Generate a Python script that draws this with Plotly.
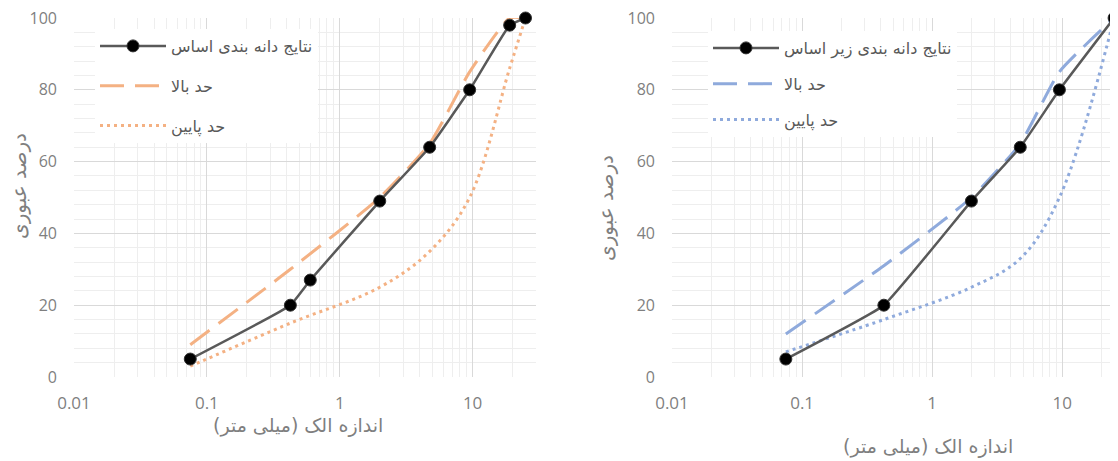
import plotly.graph_objects as go

# ---------------- data ----------------
sieve_base = [0.075, 0.425, 0.6, 2.0, 4.75, 9.5, 19, 25]
pass_base = [5, 20, 27, 49, 64, 80, 98, 100]
sieve_base_lim = [0.075, 0.425, 2.0, 4.75, 9.5, 19, 25]
base_upper = [9, 30, 50, 65, 85, 100, 100]
base_lower = [3, 15, 25, 35, 50, 86, 100]

sieve_sub = [0.075, 0.425, 2.0, 4.75, 9.5, 25]
pass_sub = [5, 20, 49, 64, 80, 100]
sieve_sub_lim = [0.075, 0.425, 2.0, 4.75, 9.5, 25]
sub_upper = [12, 31, 50, 65, 85, 100]
sub_lower = [7, 16, 25, 33, 50, 100]

x_tickvals = [0.01, 0.1, 1, 10]
x_ticktext = ["0.01", "0.1", "1", "10"]
y_tickvals = [0, 20, 40, 60, 80, 100]

name_base = "نتایج دانه بندی اساس"
name_sub = "نتایج دانه بندی زیر اساس"
name_up = "حد بالا"
name_low = "حد پایین"
x_title = "اندازه الک (میلی متر)"
y_title = "درصد عبوری"

# ---------------- style ----------------
orange = "#F4B183"
blue = "#8FAADC"
gray_line = "#595959"
txt = "#7f7f7f"
fa_font = "DejaVu Sans"
num_font = "Open Sans"

# page body has an 8px default margin; figure is sized to fill the rest
OFF = 8
W, H = 1118 - OFF, 461 - OFF

def px_x(v):          # reference-pixel x -> paper fraction
    return (v - OFF) / W

def px_y(v):          # reference-pixel y -> paper fraction
    return 1 - (v - OFF) / H

fig = go.Figure()

def add_set(xs, ys, xl, up, low, name_main, color, xa, ya, leg):
    fig.add_trace(go.Scatter(
        x=xl, y=up, mode="lines", name=name_up,
        line=dict(color=color, width=3, dash="24px,11px", shape="spline", smoothing=0.5),
        xaxis=xa, yaxis=ya, legend=leg, legendgroup=leg + "b", legendrank=2,
        cliponaxis=False))
    fig.add_trace(go.Scatter(
        x=xl, y=low, mode="lines", name=name_low,
        line=dict(color=color, width=3, dash="3px,4px", shape="spline", smoothing=1.0),
        xaxis=xa, yaxis=ya, legend=leg, legendgroup=leg + "c", legendrank=3,
        cliponaxis=False))
    fig.add_trace(go.Scatter(
        x=xs, y=ys, mode="lines+markers", name=name_main,
        line=dict(color=gray_line, width=2.5, shape="spline", smoothing=0.3),
        marker=dict(color="black", size=12, line=dict(color="#333333", width=1)),
        xaxis=xa, yaxis=ya, legend=leg, legendgroup=leg + "a", legendrank=1,
        cliponaxis=False))

add_set(sieve_base, pass_base, sieve_base_lim, base_upper, base_lower,
        name_base, orange, "x", "y", "legend")
add_set(sieve_sub, pass_sub, sieve_sub_lim, sub_upper, sub_lower,
        name_sub, blue, "x2", "y2", "legend2")

ydom = [px_y(377), px_y(18)]

xcommon = dict(
    type="log", tickvals=x_tickvals, ticktext=x_ticktext,
    showgrid=True, gridcolor="#d9d9d9", gridwidth=1,
    minor=dict(showgrid=True, gridcolor="#eeeeee", gridwidth=1, dtick="D1"),
    zeroline=False, showline=False, ticks="", automargin=False,
    ticklabelstandoff=14, ticklabeloverflow="allow",
    tickfont=dict(family=num_font, size=17, color=txt),
)
ycommon = dict(
    range=[0, 100], tickvals=y_tickvals,
    showgrid=True, gridcolor="#d9d9d9", gridwidth=1,
    minor=dict(showgrid=True, gridcolor="#eeeeee", gridwidth=1, dtick=4, tick0=0),
    zeroline=False, showline=False, ticks="", automargin=False,
    ticklabelstandoff=16, ticklabeloverflow="allow",
    tickfont=dict(family=num_font, size=16, color=txt),
)

def ann(text, x, y, size, angle=0):
    return dict(text=text, x=px_x(x), y=px_y(y), xref="paper", yref="paper",
                xanchor="center", yanchor="middle", textangle=angle,
                showarrow=False, font=dict(family=fa_font, size=size, color=txt))

fig.update_layout(
    width=W, height=H,
    margin=dict(l=0, r=0, t=0, b=0, autoexpand=False),
    paper_bgcolor="white", plot_bgcolor="white",
    xaxis=dict(domain=[px_x(74), px_x(536)], range=[-2, 1.477], anchor="y", **xcommon),
    yaxis=dict(domain=ydom, anchor="x", **ycommon),
    xaxis2=dict(domain=[px_x(672), 1.0], range=[-2, 1.428], anchor="y2", **xcommon),
    yaxis2=dict(domain=ydom, anchor="x2", **ycommon),
    legend=dict(
        x=px_x(95), y=px_y(29), xanchor="left", yanchor="top",
        bgcolor="white", borderwidth=0, itemwidth=66,
        font=dict(family=fa_font, size=16, color="#595959"),
        tracegroupgap=16, traceorder="grouped",
    ),
    legend2=dict(
        x=px_x(708), y=px_y(31), xanchor="left", yanchor="top",
        bgcolor="white", borderwidth=0, itemwidth=66,
        font=dict(family=fa_font, size=16, color="#595959"),
        tracegroupgap=12, traceorder="grouped",
    ),
    annotations=[
        ann(x_title, 298, 425, 19),
        ann(x_title, 928, 446, 19),
        ann(y_title, 19, 186, 20, -90),
        ann(y_title, 606, 208, 20, -90),
    ],
)

fig.write_html("out.html")
